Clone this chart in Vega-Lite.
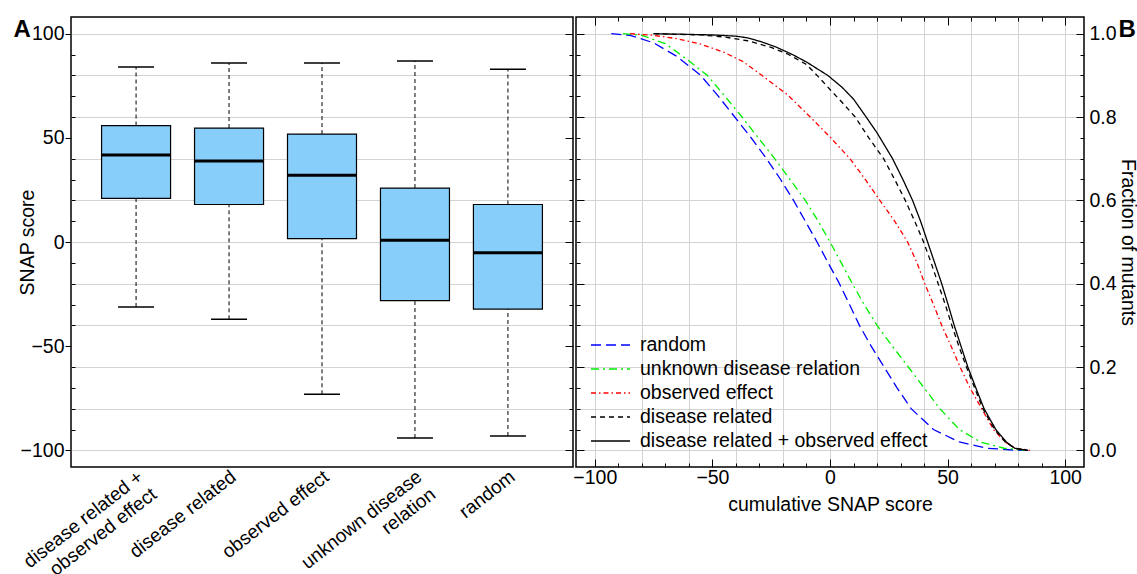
{
  "$schema": "https://vega.github.io/schema/vega-lite/v6.json",
  "padding": {"left": 12, "top": 15, "right": 0, "bottom": 0},
  "background": "white",
  "spacing": 3,
  "bounds": "flush",
  "resolve": {"legend": {"color": "independent", "strokeDash": "independent"}, "scale": {"color": "independent", "strokeDash": "independent"}},
  "config": {
    "font": "Liberation Sans",
    "view": {"stroke": "#000", "strokeWidth": 1.5},
    "axis": {
      "labelFont": "Liberation Sans", "labelFontSize": 19.5, "labelColor": "#000",
      "titleFont": "Liberation Sans", "titleFontSize": 19.5, "titleFontWeight": "normal", "titleColor": "#000",
      "tickColor": "#000", "tickWidth": 1, "gridColor": "#d3d3d3", "gridWidth": 1, "domain": false, "labelLimit": 400
    },
    "legend": {
      "labelFont": "Liberation Sans", "labelFontSize": 19.5, "labelColor": "#000", "labelLimit": 500
    }
  },
  "datasets": {
    "boxes": [
      {"group": "disease related + observed effect", "lower": -31.2, "q1": 20.9, "median": 41.8, "q3": 55.9, "upper": 84.0},
      {"group": "disease related", "lower": -37.1, "q1": 18.0, "median": 38.9, "q3": 54.7, "upper": 85.9},
      {"group": "observed effect", "lower": -73.1, "q1": 1.6, "median": 32.0, "q3": 51.8, "upper": 85.9},
      {"group": "unknown disease relation", "lower": -94.1, "q1": -28.1, "median": 0.8, "q3": 25.9, "upper": 86.9},
      {"group": "random", "lower": -93.1, "q1": -32.2, "median": -5.1, "q3": 18.0, "upper": 82.9}
    ],
    "curves": [
      {"series": "random", "score": -93, "fraction": 1.0},
      {"series": "random", "score": -85, "fraction": 0.996},
      {"series": "random", "score": -75, "fraction": 0.978},
      {"series": "random", "score": -65, "fraction": 0.945},
      {"series": "random", "score": -55, "fraction": 0.9},
      {"series": "random", "score": -47.5, "fraction": 0.85},
      {"series": "random", "score": -40.5, "fraction": 0.8},
      {"series": "random", "score": -33.5, "fraction": 0.75},
      {"series": "random", "score": -27, "fraction": 0.7},
      {"series": "random", "score": -21, "fraction": 0.65},
      {"series": "random", "score": -15.5, "fraction": 0.6},
      {"series": "random", "score": -10.5, "fraction": 0.55},
      {"series": "random", "score": -5.5, "fraction": 0.5},
      {"series": "random", "score": -0.8, "fraction": 0.45},
      {"series": "random", "score": 4, "fraction": 0.4},
      {"series": "random", "score": 8.3, "fraction": 0.35},
      {"series": "random", "score": 12.5, "fraction": 0.3},
      {"series": "random", "score": 17.5, "fraction": 0.25},
      {"series": "random", "score": 23, "fraction": 0.2},
      {"series": "random", "score": 28.5, "fraction": 0.15},
      {"series": "random", "score": 34.5, "fraction": 0.1},
      {"series": "random", "score": 44, "fraction": 0.05},
      {"series": "random", "score": 55, "fraction": 0.02},
      {"series": "random", "score": 67, "fraction": 0.005},
      {"series": "random", "score": 80, "fraction": 0.0},
      {"series": "random", "score": 86, "fraction": 0.0},
      {"series": "unknown disease relation", "score": -88, "fraction": 1.0},
      {"series": "unknown disease relation", "score": -80, "fraction": 0.996},
      {"series": "unknown disease relation", "score": -70, "fraction": 0.976},
      {"series": "unknown disease relation", "score": -60, "fraction": 0.935},
      {"series": "unknown disease relation", "score": -52.2, "fraction": 0.9},
      {"series": "unknown disease relation", "score": -45, "fraction": 0.852},
      {"series": "unknown disease relation", "score": -37.4, "fraction": 0.8},
      {"series": "unknown disease relation", "score": -30.5, "fraction": 0.75},
      {"series": "unknown disease relation", "score": -23.5, "fraction": 0.7},
      {"series": "unknown disease relation", "score": -17, "fraction": 0.65},
      {"series": "unknown disease relation", "score": -10.5, "fraction": 0.6},
      {"series": "unknown disease relation", "score": -5, "fraction": 0.55},
      {"series": "unknown disease relation", "score": 0, "fraction": 0.5},
      {"series": "unknown disease relation", "score": 4.8, "fraction": 0.45},
      {"series": "unknown disease relation", "score": 9.5, "fraction": 0.4},
      {"series": "unknown disease relation", "score": 14.5, "fraction": 0.35},
      {"series": "unknown disease relation", "score": 20, "fraction": 0.3},
      {"series": "unknown disease relation", "score": 26.5, "fraction": 0.25},
      {"series": "unknown disease relation", "score": 33.3, "fraction": 0.2},
      {"series": "unknown disease relation", "score": 40, "fraction": 0.15},
      {"series": "unknown disease relation", "score": 46.7, "fraction": 0.1},
      {"series": "unknown disease relation", "score": 55, "fraction": 0.05},
      {"series": "unknown disease relation", "score": 64, "fraction": 0.02},
      {"series": "unknown disease relation", "score": 74, "fraction": 0.005},
      {"series": "unknown disease relation", "score": 84, "fraction": 0.0},
      {"series": "observed effect", "score": -85, "fraction": 1.0},
      {"series": "observed effect", "score": -75, "fraction": 0.996},
      {"series": "observed effect", "score": -65, "fraction": 0.988},
      {"series": "observed effect", "score": -55, "fraction": 0.975},
      {"series": "observed effect", "score": -45, "fraction": 0.955},
      {"series": "observed effect", "score": -37, "fraction": 0.933},
      {"series": "observed effect", "score": -29, "fraction": 0.9},
      {"series": "observed effect", "score": -18, "fraction": 0.853},
      {"series": "observed effect", "score": -8.4, "fraction": 0.8},
      {"series": "observed effect", "score": 0, "fraction": 0.752},
      {"series": "observed effect", "score": 8.5, "fraction": 0.7},
      {"series": "observed effect", "score": 15, "fraction": 0.65},
      {"series": "observed effect", "score": 21.2, "fraction": 0.6},
      {"series": "observed effect", "score": 27.5, "fraction": 0.55},
      {"series": "observed effect", "score": 33, "fraction": 0.5},
      {"series": "observed effect", "score": 37, "fraction": 0.45},
      {"series": "observed effect", "score": 40.3, "fraction": 0.4},
      {"series": "observed effect", "score": 44, "fraction": 0.35},
      {"series": "observed effect", "score": 47.5, "fraction": 0.3},
      {"series": "observed effect", "score": 51.5, "fraction": 0.25},
      {"series": "observed effect", "score": 55.3, "fraction": 0.2},
      {"series": "observed effect", "score": 59.5, "fraction": 0.15},
      {"series": "observed effect", "score": 64.5, "fraction": 0.1},
      {"series": "observed effect", "score": 69.5, "fraction": 0.05},
      {"series": "observed effect", "score": 74.5, "fraction": 0.02},
      {"series": "observed effect", "score": 79, "fraction": 0.005},
      {"series": "observed effect", "score": 85, "fraction": 0.0},
      {"series": "disease related", "score": -75, "fraction": 1.0},
      {"series": "disease related", "score": -55, "fraction": 0.997},
      {"series": "disease related", "score": -45, "fraction": 0.992},
      {"series": "disease related", "score": -35, "fraction": 0.983},
      {"series": "disease related", "score": -25, "fraction": 0.967},
      {"series": "disease related", "score": -17.6, "fraction": 0.95},
      {"series": "disease related", "score": -10, "fraction": 0.926},
      {"series": "disease related", "score": -5, "fraction": 0.897},
      {"series": "disease related", "score": 0, "fraction": 0.866},
      {"series": "disease related", "score": 5, "fraction": 0.836},
      {"series": "disease related", "score": 10.7, "fraction": 0.8},
      {"series": "disease related", "score": 16.5, "fraction": 0.75},
      {"series": "disease related", "score": 22.8, "fraction": 0.7},
      {"series": "disease related", "score": 27.5, "fraction": 0.65},
      {"series": "disease related", "score": 32, "fraction": 0.6},
      {"series": "disease related", "score": 36, "fraction": 0.55},
      {"series": "disease related", "score": 39.8, "fraction": 0.5},
      {"series": "disease related", "score": 43, "fraction": 0.45},
      {"series": "disease related", "score": 46, "fraction": 0.4},
      {"series": "disease related", "score": 49, "fraction": 0.35},
      {"series": "disease related", "score": 51.8, "fraction": 0.3},
      {"series": "disease related", "score": 54.8, "fraction": 0.25},
      {"series": "disease related", "score": 58, "fraction": 0.2},
      {"series": "disease related", "score": 61.5, "fraction": 0.15},
      {"series": "disease related", "score": 65, "fraction": 0.1},
      {"series": "disease related", "score": 70, "fraction": 0.05},
      {"series": "disease related", "score": 74.5, "fraction": 0.02},
      {"series": "disease related", "score": 78.5, "fraction": 0.005},
      {"series": "disease related", "score": 84, "fraction": 0.0},
      {"series": "disease related + observed effect", "score": -75, "fraction": 1.0},
      {"series": "disease related + observed effect", "score": -50, "fraction": 0.997},
      {"series": "disease related + observed effect", "score": -40, "fraction": 0.994},
      {"series": "disease related + observed effect", "score": -35, "fraction": 0.99},
      {"series": "disease related + observed effect", "score": -28.9, "fraction": 0.98},
      {"series": "disease related + observed effect", "score": -23, "fraction": 0.968},
      {"series": "disease related + observed effect", "score": -16, "fraction": 0.95},
      {"series": "disease related + observed effect", "score": -10, "fraction": 0.932},
      {"series": "disease related + observed effect", "score": -1, "fraction": 0.9},
      {"series": "disease related + observed effect", "score": 5, "fraction": 0.872},
      {"series": "disease related + observed effect", "score": 10, "fraction": 0.843},
      {"series": "disease related + observed effect", "score": 15, "fraction": 0.803},
      {"series": "disease related + observed effect", "score": 20, "fraction": 0.762},
      {"series": "disease related + observed effect", "score": 26.6, "fraction": 0.7},
      {"series": "disease related + observed effect", "score": 31, "fraction": 0.65},
      {"series": "disease related + observed effect", "score": 35.1, "fraction": 0.6},
      {"series": "disease related + observed effect", "score": 38.5, "fraction": 0.55},
      {"series": "disease related + observed effect", "score": 41.5, "fraction": 0.5},
      {"series": "disease related + observed effect", "score": 44.5, "fraction": 0.45},
      {"series": "disease related + observed effect", "score": 47.5, "fraction": 0.4},
      {"series": "disease related + observed effect", "score": 50.2, "fraction": 0.35},
      {"series": "disease related + observed effect", "score": 52.8, "fraction": 0.3},
      {"series": "disease related + observed effect", "score": 55.7, "fraction": 0.25},
      {"series": "disease related + observed effect", "score": 58.6, "fraction": 0.2},
      {"series": "disease related + observed effect", "score": 62, "fraction": 0.15},
      {"series": "disease related + observed effect", "score": 65.5, "fraction": 0.1},
      {"series": "disease related + observed effect", "score": 70.5, "fraction": 0.05},
      {"series": "disease related + observed effect", "score": 75, "fraction": 0.02},
      {"series": "disease related + observed effect", "score": 78.5, "fraction": 0.005},
      {"series": "disease related + observed effect", "score": 84, "fraction": 0.0}
    ]
  },
  "hconcat": [
    {
      "width": 502,
      "height": 450,
      "data": {"name": "boxes"},
      "layer": [
        {
          "mark": {"type": "rule", "color": "#000", "strokeWidth": 1, "strokeDash": [4, 3]},
          "encoding": {
            "x": {"field": "group", "type": "nominal", "sort": null, "scale": {"domain": ["disease related + observed effect", "disease related", "observed effect", "unknown disease relation", "random"], "paddingInner": 0, "paddingOuter": 0.2}, "axis": null},
            "y": {"field": "lower", "type": "quantitative", "scale": {"domain": [-108, 108], "nice": false, "zero": false}, "axis": null},
            "y2": {"field": "q1"}
          }
        },
        {
          "mark": {"type": "rule", "color": "#000", "strokeWidth": 1, "strokeDash": [4, 3]},
          "encoding": {
            "x": {"field": "group", "type": "nominal", "sort": null, "axis": null},
            "y": {"field": "q3", "type": "quantitative", "axis": null},
            "y2": {"field": "upper"}
          }
        },
        {
          "mark": {"type": "tick", "color": "#000", "thickness": 1.5, "size": 36, "opacity": 1},
          "encoding": {
            "x": {"field": "group", "type": "nominal", "sort": null, "axis": null},
            "y": {"field": "lower", "type": "quantitative", "axis": null}
          }
        },
        {
          "mark": {"type": "tick", "color": "#000", "thickness": 1.5, "size": 36, "opacity": 1},
          "encoding": {
            "x": {"field": "group", "type": "nominal", "sort": null, "axis": null},
            "y": {"field": "upper", "type": "quantitative", "axis": null}
          }
        },
        {
          "mark": {"type": "bar", "fill": "#87CEFA", "stroke": "#000", "strokeWidth": 1.2, "size": 69, "opacity": 1},
          "encoding": {
            "x": {
              "field": "group", "type": "nominal", "sort": null,
              "axis": {
                "orient": "bottom", "title": null, "ticks": false, "grid": false, "labelAngle": -38, "labelAlign": "right", "labelBaseline": "top",
                "labelPadding": 0, "labelOffset": -1, "labelLineHeight": 22, "labelFontSize": 19,
                "labelExpr": "datum.label == 'disease related + observed effect' ? ['disease related +', 'observed effect'] : datum.label == 'unknown disease relation' ? ['unknown disease', 'relation'] : datum.label"
              }
            },
            "y": {
              "field": "q1", "type": "quantitative",
              "axis": {
                "orient": "left", "title": "SNAP score",
                "values": [-100, -90, -80, -70, -60, -50, -40, -30, -20, -10, 0, 10, 20, 30, 40, 50, 60, 70, 80, 90, 100],
                "labelExpr": "datum.value % 50 === 0 ? datum.label : ''",
                "tickSize": {"condition": {"test": "datum.value % 50 === 0", "value": 6}, "value": -4},
                "grid": true,
                "gridOpacity": {"condition": {"test": "datum.value % 20 === 0", "value": 1}, "value": 0},
                "labelPadding": 1, "titlePadding": -17
              }
            },
            "y2": {"field": "q3"}
          }
        },
        {
          "mark": {"type": "tick", "color": "#000", "thickness": 3, "size": 69, "opacity": 1},
          "encoding": {
            "x": {
              "field": "group", "type": "nominal", "sort": null,
              "axis": {
                "orient": "top", "labels": false, "ticks": false, "grid": false, "domain": false,
                "title": "A", "titleFontSize": 24, "titleFontWeight": "bold", "titleAlign": "left", "titleBaseline": "alphabetic", "titleAnchor": "start", "titleAngle": 0,
                "titleX": -58, "titleY": 19
              }
            },
            "y": {
              "field": "median", "type": "quantitative",
              "axis": {
                "orient": "right", "title": null, "labels": false, "grid": false,
                "values": [-100, -90, -80, -70, -60, -50, -40, -30, -20, -10, 0, 10, 20, 30, 40, 50, 60, 70, 80, 90, 100],
                "tickSize": {"condition": {"test": "datum.value % 50 === 0", "value": -8}, "value": -4}
              }
            }
          }
        }
      ],
      "resolve": {"axis": {"x": "independent", "y": "independent"}}
    },
    {
      "width": 508,
      "height": 450,
      "data": {"name": "curves"},
      "layer": [
        {
          "mark": {"type": "line", "strokeWidth": 1.3},
          "encoding": {
            "x": {
              "field": "score", "type": "quantitative",
              "scale": {"domain": [-108, 108], "nice": false, "zero": false},
              "axis": {
                "orient": "bottom", "title": "cumulative SNAP score",
                "values": [-100, -90, -80, -70, -60, -50, -40, -30, -20, -10, 0, 10, 20, 30, 40, 50, 60, 70, 80, 90, 100],
                "labelExpr": "datum.value % 50 === 0 ? datum.label : ''",
                "tickSize": {"condition": {"test": "datum.value % 50 === 0", "value": -8}, "value": -4},
                "grid": true,
                "gridOpacity": {"condition": {"test": "datum.value % 20 === 0", "value": 1}, "value": 0},
                "labelPadding": 9, "titlePadding": 9
              }
            },
            "y": {
              "field": "fraction", "type": "quantitative",
              "scale": {"domain": [-0.04, 1.04], "nice": false, "zero": false},
              "axis": {
                "orient": "right", "title": "Fraction of mutants", "format": ".1f",
                "values": [0, 0.05, 0.1, 0.15, 0.2, 0.25, 0.3, 0.35, 0.4, 0.45, 0.5, 0.55, 0.6, 0.65, 0.7, 0.75, 0.8, 0.85, 0.9, 0.95, 1],
                "labelExpr": "round(datum.value * 100) % 20 === 0 ? datum.label : ''",
                "tickSize": {"condition": {"test": "round(datum.value * 100) % 20 === 0", "value": -8}, "value": -4},
                "grid": true,
                "gridOpacity": {"condition": {"test": "round(datum.value * 100) % 10 === 0", "value": 1}, "value": 0},
                "labelPadding": 13, "titlePadding": 1
              }
            },
            "color": {
              "field": "series", "type": "nominal",
              "scale": {"domain": ["random", "unknown disease relation", "observed effect", "disease related", "disease related + observed effect"], "range": ["#0000FF", "#00EE00", "#FF0000", "#000000", "#000000"]},
              "legend": {"title": null, "orient": "bottom-left", "offset": 14, "padding": 0, "symbolType": "stroke", "symbolSize": 1521, "symbolStrokeWidth": 1.3, "clipHeight": 24, "rowPadding": 0, "labelOffset": 9}
            },
            "strokeDash": {
              "field": "series", "type": "nominal",
              "scale": {"domain": ["random", "unknown disease relation", "observed effect", "disease related", "disease related + observed effect"], "range": [[10, 5], [8, 4, 2, 4], [5, 3, 1.5, 3], [5, 4], [1, 0]]},
              "legend": {"title": null, "orient": "bottom-left", "offset": 14, "padding": 0, "symbolType": "stroke", "symbolSize": 1521, "symbolStrokeWidth": 1.3, "clipHeight": 24, "rowPadding": 0, "labelOffset": 9}
            }
          }
        },
        {
          "mark": {"type": "point", "opacity": 0},
          "encoding": {
            "x": {
              "field": "score", "type": "quantitative",
              "axis": {
                "orient": "top", "labels": false, "grid": false,
                "values": [-100, -90, -80, -70, -60, -50, -40, -30, -20, -10, 0, 10, 20, 30, 40, 50, 60, 70, 80, 90, 100],
                "tickSize": {"condition": {"test": "datum.value % 50 === 0", "value": -8}, "value": -4},
                "title": "B", "titleFontSize": 24, "titleFontWeight": "bold", "titleAlign": "left", "titleBaseline": "alphabetic", "titleAnchor": "start", "titleAngle": 0,
                "titleX": 542, "titleY": 19
              }
            },
            "y": {
              "field": "fraction", "type": "quantitative",
              "axis": {
                "orient": "left", "title": null, "labels": false, "grid": false,
                "values": [0, 0.05, 0.1, 0.15, 0.2, 0.25, 0.3, 0.35, 0.4, 0.45, 0.5, 0.55, 0.6, 0.65, 0.7, 0.75, 0.8, 0.85, 0.9, 0.95, 1],
                "tickSize": {"condition": {"test": "round(datum.value * 100) % 20 === 0", "value": -8}, "value": -4}
              }
            }
          }
        }
      ],
      "resolve": {"axis": {"x": "independent", "y": "independent"}}
    }
  ]
}
